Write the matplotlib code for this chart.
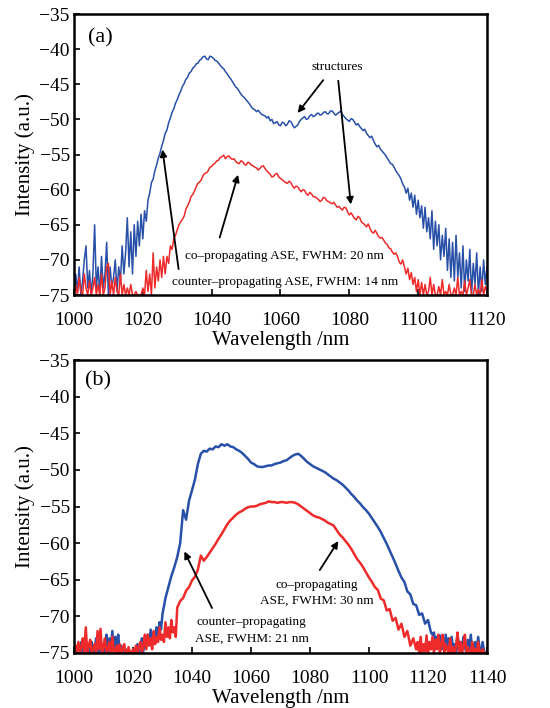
import numpy as np
import matplotlib
matplotlib.use("Agg")
import matplotlib.pyplot as plt

plt.rcParams['font.family'] = ['Liberation Serif', 'DejaVu Serif']

# panel (a): 1000-1120 nm, 0.5 nm steps
wl_a = np.arange(1000, 1120.25, 0.5)
blue_a = [
    -75, -72, -74.5, -71, -75, -73, -70, -68, -74, -71.5,            # 1000
    -75, -72, -65, -74, -71, -75, -69.5, -74, -72, -67.5,            # 1005
    -75, -71, -74, -72.5, -70, -74.5, -71, -73, -68, -72,            # 1010
    -69, -64, -71, -66, -72, -65, -69.5, -64.5, -68, -63.5,          # 1015
    -67, -63, -64.5, -61.5, -60.5, -59, -58.5, -57.3, -56.5, -55.5,  # 1020
    -54.8, -53.8, -53, -52, -51.5, -50.5, -49.8, -49, -48.5, -47.7,  # 1025
    -47.2, -46.5, -46, -45.3, -44.9, -44.3, -44, -43.4, -43.2, -42.7,
    -42.5, -42.1, -42, -41.6, -41.4, -41.1, -41.0, -41.4, -41.5, -41.0,
    -41.1, -41.3, -41.6, -41.7, -42.0, -42.3, -42.6, -42.8, -43.2, -43.5,
    -43.9, -44.2, -44.6, -45.0, -45.4, -45.6, -46.0, -46.4, -46.7, -46.9,
    -47.2, -47.5, -47.8, -48.2, -48.5, -48.6, -48.9, -48.7, -49.0, -49.3,  # 1050
    -49.4, -49.5, -49.8, -49.6, -50.2, -50.0, -50.6, -50.5, -50.3, -50.8,
    -50.9, -50.4, -50.5, -50.9, -50.7, -50.2, -50.3, -50.8, -51.2, -51.0,
    -50.8, -50.3, -50.0, -49.8, -49.6, -50.0, -49.9, -49.5, -49.3, -49.6,
    -49.5, -49.2, -49.1, -49.4, -49.3, -49.0, -48.9, -49.2, -49.2, -48.8,  # 1070
    -48.8, -49.1, -49.4, -49.2, -49.0, -48.8, -49.3, -49.6, -49.9, -50.1,
    -50.3, -49.9, -50.0, -50.4, -50.8, -50.6, -51.0, -51.3, -51.6, -51.4,
    -52.0, -52.3, -52.6, -52.4, -53.0, -53.5, -53.9, -53.7, -54.2, -54.5,
    -54.8, -55.1, -55.5, -55.9, -56.3, -56.4, -56.8, -57.3, -57.7, -58.0,  # 1090
    -58.5, -59.2, -59.6, -60.5, -59.8, -61.5, -60.5, -62.5, -60.8, -63.5,
    -61.5, -64.0, -62.3, -65.5, -62.5, -66.0, -64.0, -67.0, -63.0, -68.5,  # 1100
    -64.5, -68.0, -65.0, -70.0, -66.5, -69.5, -65.5, -71.5, -67.0, -72.5,
    -67.5, -73.0, -66.5, -72.5, -69.0, -74.0, -68.0, -74.5, -70.0, -73.0,  # 1110
    -68.5, -75.0, -70.5, -73.5, -69.0, -75.0, -71.0, -74.5, -70.0, -73.5,
    -71.0,
]
red_a = [
    -75, -73.5, -75, -72.5, -74.5, -75, -72, -74, -75, -73,          # 1000
    -75, -74, -72.5, -75, -73.5, -75, -72, -75, -74, -71,            # 1005
    -70.5, -75, -73, -75, -72.5, -74.5, -75, -72, -75, -73.5,        # 1010
    -75, -74, -75, -73.5, -75, -75, -74.5, -75, -75, -75,            # 1015
    -74, -75, -71.5, -74.5, -72, -75, -69, -74, -71, -73,            # 1020
    -70, -72.5, -69.5, -72, -69.5, -70.5, -68, -68.5, -67, -66.5,    # 1025
    -65.7, -65.0, -64.6, -64.2, -63.8, -62.8, -62.3, -61.8, -61.0, -60.7,
    -60.2, -59.6, -59.1, -58.9, -58.6, -58.0, -57.7, -57.6, -57.3, -56.8,
    -56.7, -56.4, -56.2, -55.9, -55.8, -55.4, -55.3, -55.1, -55.6, -55.3,  # 1040
    -55.2, -55.5, -55.7, -55.6, -56.0, -56.2, -56.3, -55.9, -56.0, -56.4,
    -56.5, -56.1, -56.2, -56.5, -56.6, -56.8, -56.9, -57.2, -57.0, -56.7,  # 1050
    -56.6, -57.0, -57.3, -57.6, -57.8, -58.2, -58.1, -57.8, -57.7, -58.2,
    -58.4, -58.6, -58.8, -59.0, -59.1, -58.8, -59.0, -59.5, -59.8, -59.5,  # 1060
    -59.6, -60.0, -60.3, -60.0, -60.1, -60.6, -60.8, -60.4, -60.6, -61.0,
    -61.0, -61.2, -61.4, -61.7, -61.5, -61.1, -61.2, -61.6, -61.7, -61.9,  # 1070
    -62.0, -61.8, -62.2, -62.5, -62.4, -62.7, -62.9, -62.5, -62.6, -63.2,
    -63.6, -63.3, -63.7, -64.1, -64.3, -63.8, -64.0, -64.6, -64.8, -65.0,  # 1080
    -65.3, -64.9, -65.5, -66.0, -66.2, -65.8, -66.2, -66.7, -66.9, -66.8,
    -67.2, -67.6, -67.8, -68.3, -68.4, -68.9, -69.2, -69.0, -69.5, -70.3,  # 1090
    -70.6, -70.0, -71.0, -72.0, -71.2, -72.8, -71.8, -73.5, -72.5, -74.5,
    -72.8, -75.0, -73.2, -75.0, -73.5, -75.0, -74.5, -72.5, -75, -73.5,    # 1100
    -75, -75, -73.8, -75, -72.8, -75, -74.5, -75, -73.5, -75,
    -75, -74, -75, -72.5, -75, -74.5, -75, -73, -75, -74,                  # 1110
    -72.8, -75, -75, -73.5, -75, -74.2, -75, -72.8, -75, -73.8,
    -74.5,
]

# panel (b): noisy floor in 0.5 nm steps, spectrum body in 1 nm steps
wl_b_blue = np.concatenate([np.arange(1000, 1030, 0.5),
                            np.arange(1030, 1122),
                            np.arange(1121.5, 1140.25, 0.5)])
blue_b = [
    -75, -74.5, -75, -74, -75, -73.5, -75, -74.8, -73.2, -75,        # 1000
    -74, -75, -73.5, -75, -74.5, -73, -75, -74, -75, -73.8,          # 1005
    -75, -74.2, -72.5, -75, -73, -74.5, -72, -75, -72.8, -74,        # 1010
    -72.5, -75, -74, -75, -75, -74.5, -75, -75, -74.8, -75,          # 1015
    -75, -74.5, -75, -73.8, -75, -74, -73, -74.8, -72.8, -74,        # 1020
    -72.5, -73.8, -71.8, -73.2, -72.2, -73.5, -71.5, -72.8, -70.8, -71.8,  # 1025
    -69.7, -67.5, -66.0, -64.5, -63.3, -61.9, -60.0, -55.5, -56.8, -54.2,  # 1030
    -52.8, -51.3, -49.2, -47.8, -47.4, -47.5, -47.1, -47.2, -46.8, -46.9,
    -46.5, -46.7, -46.5, -46.8, -46.9, -47.2, -47.4, -47.7, -48.1, -48.5,  # 1050
    -49.0, -49.2, -49.5, -49.6, -49.6, -49.5, -49.4, -49.4, -49.2, -49.1,
    -49.0, -48.8, -48.7, -48.4, -48.1, -47.9, -47.8, -48.1, -48.5, -48.9,  # 1070
    -49.2, -49.5, -49.7, -49.9, -50.1, -50.3, -50.6, -50.9, -51.2, -51.4,
    -51.7, -52.0, -52.4, -52.8, -53.3, -53.7, -54.2, -54.6, -55.1, -55.5,  # 1090
    -56.0, -56.6, -57.2, -57.8, -58.5, -59.3, -60.1, -61.0, -61.9, -62.8,
    -63.8, -64.7, -65.3, -66.6, -67.0, -68.3, -68.5, -69.8, -69.6, -71.0,  # 1110
    -70.5, -72.2,                                                          # 1120
    -72.5, -72.2, -73.5, -72.8, -73.8, -72.6, -74.5, -73.2, -74.8, -72.5,  # 1121.5
    -74.2, -73.0, -75, -72.8, -74.5, -73.8, -75, -72.4, -74.5, -73.5,
    -75, -72.8, -74.2, -75, -73.2, -74.8, -72.5, -75, -74, -73.5,
    -75, -72.8, -74.5, -75, -73.5, -74.8, -75, -75,
]
wl_b_red = np.concatenate([np.arange(1000, 1035, 0.5),
                           np.arange(1035, 1117),
                           np.arange(1116.5, 1140.25, 0.5)])
red_b = [
    -75, -74, -74.8, -73.5, -75, -74.2, -73, -74.8, -71.5, -75,      # 1000
    -74, -73.2, -75, -74.5, -73.8, -75, -72, -74.5, -71.7, -75,      # 1005
    -74.2, -73, -75, -74.5, -73.5, -75, -72.8, -74.8, -75, -74,      # 1010
    -75, -73.8, -75, -74.5, -73.8, -75, -75, -74.2, -75, -75,        # 1015
    -74.5, -75, -74, -75, -74.2, -73.5, -75, -74, -72.5, -74.5,      # 1020
    -72.5, -74, -73, -74.5, -72, -73.8, -72.8, -73.5, -71.5, -73.2,  # 1025
    -72.5, -73.5, -70.8, -72.8, -71.5, -73, -70.5, -72.2, -71.5, -72.8,  # 1030
    -68.8, -67.9, -67.5, -66.5, -66.0,                                 # 1035
    -65.1, -64.6, -63.6, -61.7, -62.4, -61.9, -61.3, -60.7, -60.1, -59.4,  # 1040
    -58.8, -58.1, -57.4, -56.9, -56.5, -56.1, -55.8, -55.6, -55.3, -55.1,
    -55.0, -55.0, -54.9, -54.7, -54.6, -54.5, -54.3, -54.4, -54.4, -54.5,  # 1060
    -54.4, -54.4, -54.5, -54.4, -54.4, -54.5, -54.7, -55.0, -55.3, -55.6,
    -55.9, -56.2, -56.4, -56.5, -56.7, -56.9, -57.2, -57.4, -57.6, -58.2,  # 1080
    -58.8, -59.2, -59.7, -60.2, -60.8, -61.5, -62.2, -62.7, -63.3, -64.0,
    -64.7, -65.3, -66.0, -66.4, -67.6, -67.8, -69.2, -69.0, -70.6, -70.2,  # 1100
    -71.8, -71.0, -72.8, -72.0, -74.0, -73.0, -74.5,                      # 1110
    -73.5, -75, -72.8, -75, -73.8, -74.8, -72.6, -75, -73.5, -74.5,        # 1116.5
    -72.8, -75, -73.2, -74.5, -72.5, -75, -73.8, -72.5, -75, -73.8,
    -74.5, -75, -73, -75, -74.2, -75, -74, -72.2, -75, -73.5,
    -75, -74, -72.5, -75, -74.2, -75, -75, -73.5, -75, -74.5,
    -75, -73.5, -75, -75, -74.5, -75, -75, -75,
]

blue = "#2850a8"
red = "#ee2a2a"

fig = plt.figure(figsize=(5.5, 7.08), dpi=100)
ax1 = fig.add_axes([0.1345, 0.5833, 0.751, 0.3969])
ax2 = fig.add_axes([0.1345, 0.0777, 0.751, 0.4138])

ax1.plot(wl_a, blue_a, color=blue, lw=1.1)
ax1.plot(wl_a, red_a, color=red, lw=1.1)
ax2.plot(wl_b_blue, blue_b, color=blue, lw=1.8)
ax2.plot(wl_b_red, red_b, color=red, lw=1.8)

ax1.set_xlim(1000, 1120)
ax2.set_xlim(1000, 1140)
for ax in (ax1, ax2):
    ax.set_ylim(-75, -35)
    ax.set_yticks(range(-75, -34, 5))
    ax.set_xlabel("Wavelength /nm", fontsize=15, labelpad=2)
    ax.set_ylabel("Intensity (a.u.)", fontsize=15, labelpad=3)
    ax.tick_params(direction="in", length=4, width=1.2, labelsize=14)
    ax.tick_params(axis="x", pad=12)
    ax.tick_params(axis="y", pad=3)
    for s in ax.spines.values():
        s.set_linewidth(1.8)

arr = dict(arrowstyle="-|>", color="black", lw=1.3, mutation_scale=10)
txt = dict(fontsize=9.5, ha="center", va="center")

ax1.text(1007.6, -38.4, "(a)", fontsize=16, ha="center", va="center")
ax1.text(1076.4, -42.5, "structures", **txt)
ax1.annotate("", xy=(1064.5, -49.4), xytext=(1072.9, -44.1), arrowprops=arr)
ax1.annotate("", xy=(1080.5, -62.5), xytext=(1076.7, -44.1), arrowprops=arr)
ax1.annotate("", xy=(1047.9, -57.5), xytext=(1042.1, -67.2), arrowprops=arr)
ax1.annotate("", xy=(1025.6, -53.9), xytext=(1030.5, -71.7), arrowprops=arr)
ax1.text(1061, -69.4, "co\u2013propagating ASE, FWHM: 20 nm", **txt)
ax1.text(1061.3, -73.1, "counter\u2013propagating ASE, FWHM: 14 nm", **txt)

ax2.text(1008.2, -37.8, "(b)", fontsize=16, ha="center", va="center")
ax2.annotate("", xy=(1037, -60.8), xytext=(1047.2, -69.2), arrowprops=arr)
ax2.annotate("", xy=(1090.1, -59.4), xytext=(1082.8, -64), arrowprops=arr)
ax2.text(1060.2, -70.8, "counter\u2013propagating", **txt)
ax2.text(1060.2, -73.0, "ASE, FWHM: 21 nm", **txt)
ax2.text(1082.2, -65.7, "co\u2013propagating", **txt)
ax2.text(1082.2, -67.8, "ASE, FWHM: 30 nm", **txt)

fig.savefig("out.png", dpi=100)
